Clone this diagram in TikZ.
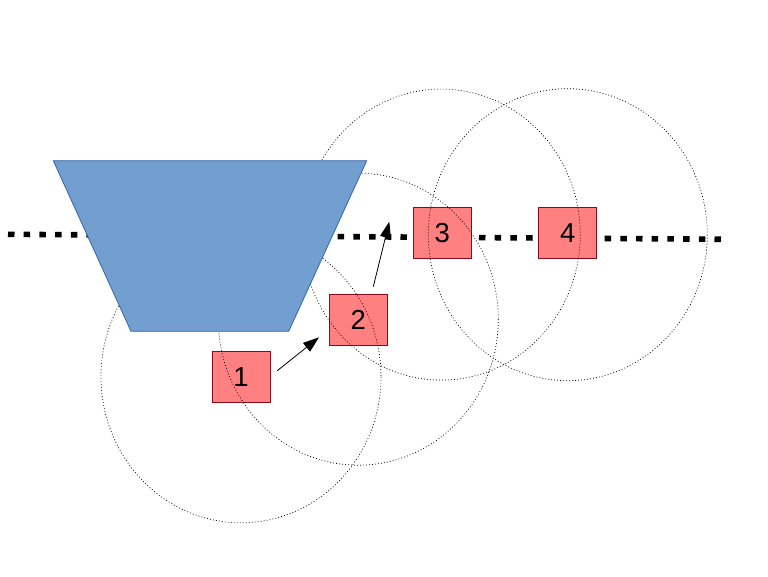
\documentclass[tikz,border=0pt]{standalone}
\usepackage{fontspec}
\setmainfont{Liberation Sans}
\usetikzlibrary{arrows.meta}
\definecolor{boxfill}{HTML}{FF8080}
\definecolor{boxline}{HTML}{8B0A1E}
\definecolor{trapfill}{HTML}{729FCF}
\definecolor{trapline}{HTML}{3465A4}
\tikzset{
  numbox/.style={draw=boxline, line width=0.9pt, fill=boxfill, minimum width=58pt, minimum height=51pt, inner sep=0pt, font=\fontsize{27.5}{27.5}\selectfont},
  rangecircle/.style={draw=black, line width=0.7pt, dash pattern=on 0.9pt off 2.1pt},
  trackline/.style={draw=black, line width=5.6pt, dash pattern=on 6.5pt off 9.2pt},
  moveline/.style={draw=black, line width=0.8pt, -{Triangle[length=16pt,width=11pt]}},
}
\begin{document}
\begin{tikzpicture}[x=1pt,y=-1pt]
\useasboundingbox[fill=white] (0,0) rectangle (768,576);
% track
\coordinate (l1) at (8,234.3);
\coordinate (l2) at (727,239.3);
\draw[trackline] (l1) -- (l2);
% boxes
\node[numbox] (b1) at (241,376.8) {1};
\node[numbox] (b2) at (358.3,319.7) {2};
\node[numbox] (b3) at (442.3,232.8) {3};
\node[numbox] (b4) at (567.8,233.2) {4};
% range circles
\draw[rangecircle] ([yshift=0pt]b1.center) ellipse[x radius=140, y radius=146];
\draw[rangecircle] ([yshift=0.5pt]b2.center) ellipse[x radius=140, y radius=146];
\draw[rangecircle] ([xshift=-1pt,yshift=-1.8pt]b3.center) ellipse[x radius=139, y radius=145.5];
\draw[rangecircle] ([yshift=-1.5pt]b4.center) ellipse[x radius=139.5, y radius=146];
% trapezoid
\coordinate (t1) at (53.3,160.7);
\coordinate (t2) at (366.7,160.7);
\coordinate (t3) at (288.7,331.3);
\coordinate (t4) at (131,331.3);
\draw[draw=trapline, line width=0.8pt, fill=trapfill] (t1) -- (t2) -- (t3) -- (t4) -- cycle;
% moves
\coordinate (a1s) at (277.3,370.7);
\coordinate (a1e) at (319,337.3);
\coordinate (a2s) at (373.3,286.7);
\coordinate (a2e) at (389.3,221.7);
\draw[moveline] (a1s) -- (a1e);
\draw[moveline] (a2s) -- (a2e);
\end{tikzpicture}
\end{document}
